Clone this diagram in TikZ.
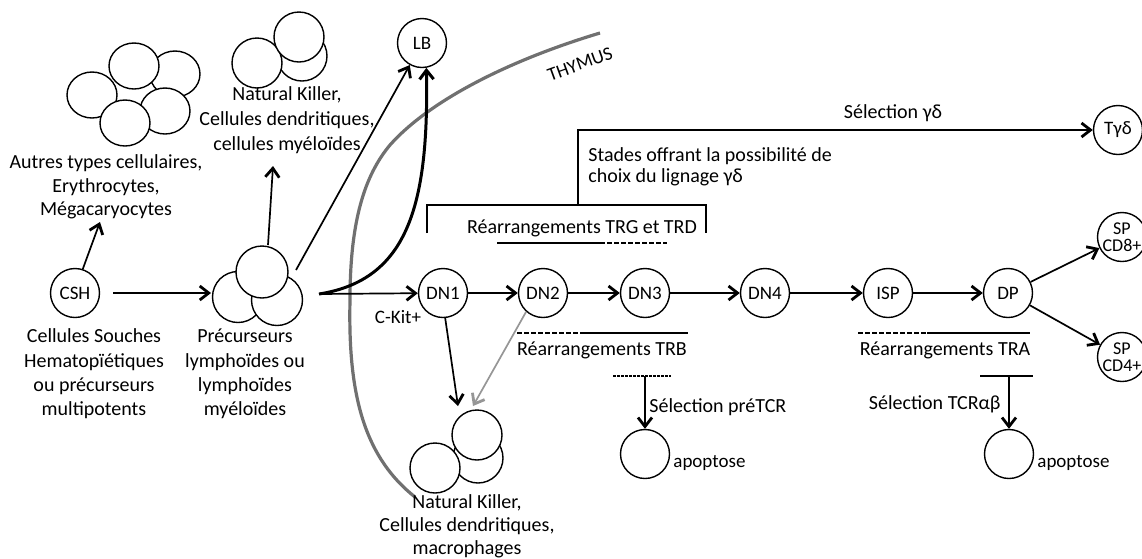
\documentclass[tikz,border=0pt]{standalone}
\usepackage{fontspec}
\setmainfont{Carlito}
\usetikzlibrary{arrows.meta}
\definecolor{thy}{RGB}{112,112,112}
\definecolor{garr}{RGB}{150,150,150}
\begin{document}
\begin{tikzpicture}[x=0.5pt,y=-0.5pt,
  cell/.style={circle,draw,fill=white,line width=0.7pt,minimum size=24.5pt,inner sep=0pt,font=\fontsize{9.5}{10}\selectfont},
  blob/.style={draw,fill=white,line width=0.7pt},
  tip/.style={-{Straight Barb[length=4.5pt,width=7pt,line width=1.4pt]}},
  arr/.style={line width=0.85pt,tip},
  txt/.style={align=center,inner sep=0pt,font=\fontsize{10}{12.2}\selectfont},
  small/.style={inner sep=0pt,font=\fontsize{9.5}{11}\selectfont},
  thin/.style={line width=0.8pt},
  dsh/.style={line width=0.8pt,dash pattern=on 2.5pt off 1pt},
  ddsh/.style={line width=0.8pt,dash pattern=on 1.5pt off 0.5pt}
]
\useasboundingbox (0,0) rectangle (1142,558);

% thymus boundary
\draw[thy,line width=1.6pt] (415,497) .. controls (362,455) and (348,390) .. (350,300)
  .. controls (350,220) and (365,175) .. (390,145) .. controls (430,100) and (510,60) .. (600,33);
\node[small,rotate=20,font=\fontsize{9.5}{10}\selectfont] (thylab) at (580,64) {THYMUS};

% other cell types cluster
\draw[blob] (175,74) ellipse (25 and 23);
\draw[blob] (92,95) ellipse (25 and 23);
\draw[blob] (134,66) ellipse (25 and 23);
\draw[blob] (165,111) ellipse (25 and 23);
\draw[blob] (125,123) ellipse (25 and 23);
\node[txt,font=\fontsize{10}{11.8}\selectfont] (autres) at (106,187) {Autres types cellulaires,\\Erythrocytes,\\Mégacaryocytes};
\coordinate (autresArr) at (100,222);

% NK top cluster
\draw[blob] (302,56) circle (25);
\draw[blob] (257,63) circle (25);
\draw[blob] (299,37) circle (25);
\node[txt,font=\fontsize{10}{12.5}\selectfont] (nktop) at (287,120) {Natural Killer,\\Cellules dendritiques,\\cellules myéloïdes};
\coordinate (nkTopArr) at (273,166);

% CSH
\node[cell] (CSH) at (75,293) {CSH};
\node[txt] (cshtxt) at (94,374) {Cellules Souches\\Hematopïétiques\\ou précurseurs\\multipotents};

% precursors cluster
\draw[blob] (238,297) circle (25.5);
\draw[blob] (277,300) circle (25.5);
\draw[blob] (262,272) circle (26);
\coordinate (precW) at (211,293);
\coordinate (precE) at (319,294);
\coordinate (precN) at (268,245);
\coordinate (precNE) at (296,270);
\node[txt] (prectxt) at (245,374) {Précurseurs\\lymphoïdes ou\\lymphoïdes\\myéloïdes};

% LB
\node[cell] (LB) at (422,43) {LB};

% NK bottom cluster
\draw[blob] (478,458) circle (25);
\draw[blob] (435,468) circle (25);
\draw[blob] (477,435) circle (25);
\coordinate (nkA) at (458,406);
\coordinate (nkB) at (473,406);
\node[txt,font=\fontsize{10}{11.4}\selectfont] (nkbot) at (467,526) {Natural Killer,\\Cellules dendritiques,\\macrophages};

% T lineage nodes
\node[cell] (DN1) at (443,293) {DN1};
\node[cell] (DN2) at (543,293) {DN2};
\node[cell] (DN3) at (645,293) {DN3};
\node[cell] (DN4) at (765,293) {DN4};
\node[cell] (ISP) at (888,293) {ISP};
\node[cell] (DP) at (1008,293) {DP};
\node[cell] (Tgd) at (1118,130) {Tγδ};
\node[cell] (SP8) at (1122,237) {};
\node[small,align=center,font=\fontsize{9}{8.5}\selectfont] (SP8t) at (SP8) {SP\\CD8+};
\node[cell] (SP4) at (1122,357) {};
\node[small,align=center,font=\fontsize{9}{8.5}\selectfont] (SP4t) at (SP4) {SP\\CD4+};
\node[cell] (apo1) at (645,454) {};
\node[cell] (apo2) at (1009,454) {};
\node[small,anchor=west] (apo1t) at (673,463) {apoptose};
\node[small,anchor=west] (apo2t) at (1037,463) {apoptose};

% connectors
\draw[arr,shorten <=6.5pt] (CSH) -- (precW);
\draw[arr] (CSH.72) -- (autresArr);
\draw[arr] (precN) -- (nkTopArr);
\draw[arr] (precNE) -- (LB);
\draw[line width=1.5pt,-{Straight Barb[length=4.5pt,width=7pt,line width=1.5pt]}] (precE) .. controls (408,280) and (429,205) .. (LB.280);
\draw[arr] (precE) -- (DN1);
\node[small] (ckit) at (398,317) {C-Kit+};
\draw[arr] (DN1) -- (DN2);
\draw[arr] (DN2) -- (DN3);
\draw[arr] (DN3) -- (DN4);
\draw[arr] (DN4) -- (ISP);
\draw[arr] (ISP) -- (DP);
\draw[arr] (DP) -- (SP8);
\draw[arr] (DP) -- (SP4);
\draw[arr] (DN1.275) -- (nkA);
\draw[arr,garr] (DN2.228) -- (nkB);

% brackets and gamma-delta selection
\draw[thin] (427,233) |- (706,205) -- (706,233);
\draw[arr] (578,205) |- (Tgd);
\node[txt] (selgd) at (893,113) {Sélection γδ};
\node[txt,anchor=west,align=left,font=\fontsize{10}{10.5}\selectfont] (stades) at (588,167) {Stades offrant la possibilité de\\choix du lignage γδ};
\node[txt] (trgtrd) at (582,228) {Réarrangements TRG et TRD};
\draw[thin] (497,243) -- (600,243);
\draw[dsh] (600,243) -- (667,243);

% TRB
\draw[dsh] (517,333) -- (585,333);
\draw[thin] (585,333) -- (688,333);
\node[txt] (trb) at (602,350) {Réarrangements TRB};
\draw[ddsh] (613,376) -- (671,376);
\coordinate (tb1) at (645,376);
\draw[arr] (tb1) -- (apo1.north);
\node[txt,anchor=west] (selpre) at (649,407) {Sélection préTCR};

% TRA
\draw[dsh] (858,333) -- (927,333);
\draw[thin] (927,333) -- (1030,333);
\node[txt] (tra) at (945,350) {Réarrangements TRA};
\draw[thin] (980,376) -- (1033,376);
\coordinate (tb2) at (1009,376);
\draw[arr] (tb2) -- (apo2.north);
\node[txt,anchor=east] (selab) at (1001,404) {Sélection TCRαβ};
\end{tikzpicture}
\end{document}
